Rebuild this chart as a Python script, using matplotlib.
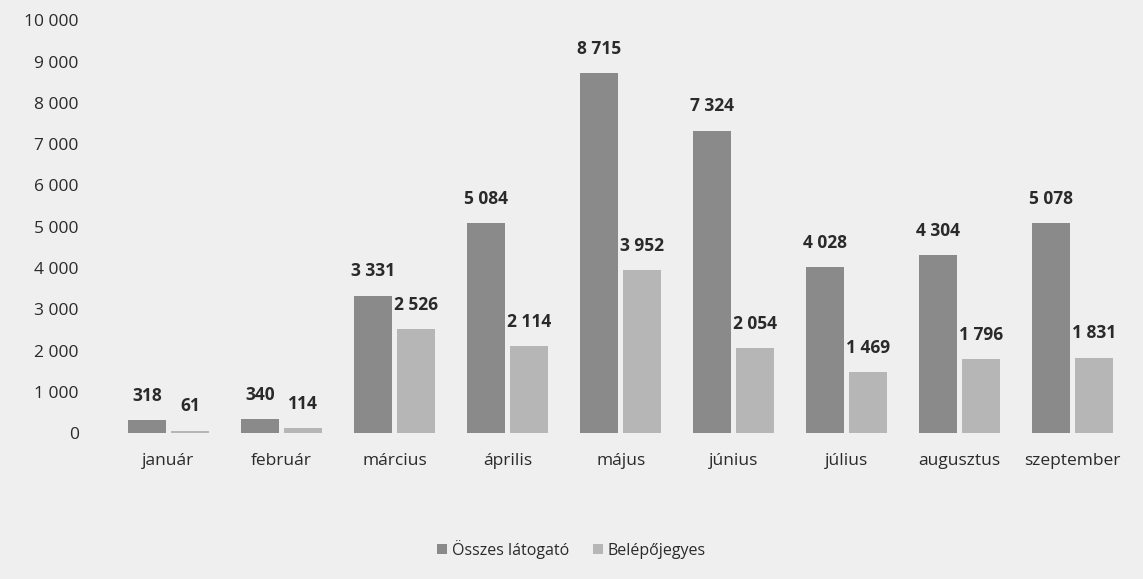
import matplotlib.pyplot as plt
import numpy as np

# data
months = ['január', 'február', 'március', 'április', 'május', 'június',
          'július', 'augusztus', 'szeptember']
osszes = [318, 340, 3331, 5084, 8715, 7324, 4028, 4304, 5078]
belepo = [61, 114, 2526, 2114, 3952, 2054, 1469, 1796, 1831]
series_names = ['Összes látogató', 'Belépőjegyes']


def fmt(v):
    return f"{v:,}".replace(',', ' ')


plt.rcParams['font.family'] = ['Open Sans', 'DejaVu Sans']

fig = plt.figure(figsize=(11.43, 5.79), dpi=100)
fig.patch.set_facecolor('#efefef')
ax = fig.add_axes([0.098, 0.252, 0.89, 0.713])
ax.set_facecolor('#efefef')

x = np.arange(len(months))
w = 0.335
b1 = ax.bar(x - 0.19, osszes, w, color='#8a8a8a', label=series_names[0])
b2 = ax.bar(x + 0.19, belepo, w, color='#b6b6b6', label=series_names[1])

for bars, vals in ((b1, osszes), (b2, belepo)):
    for r, v in zip(bars, vals):
        ax.annotate(fmt(v), (r.get_x() + r.get_width() / 2, v),
                    xytext=(0, 11), textcoords='offset points',
                    ha='center', va='bottom', fontsize=12.5,
                    fontweight='bold', color='#2a2a2a')

ax.set_xlim(-0.5, len(months) - 0.5)
ax.set_ylim(0, 10000)
ax.set_yticks(range(0, 10001, 1000))
ax.set_yticklabels([fmt(v) for v in range(0, 10001, 1000)])
ax.set_xticks(x)
ax.set_xticklabels(months)
ax.tick_params(length=0, labelsize=12.5, colors='#2a2a2a')
ax.tick_params(axis='y', pad=24)
ax.tick_params(axis='x', pad=14)
for s in ax.spines.values():
    s.set_visible(False)

fig.legend(loc='lower center', bbox_to_anchor=(0.5, 0.01), ncol=2, frameon=False,
           fontsize=11.5, handlelength=0.6, handleheight=0.6, columnspacing=1.5,
           handletextpad=0.3, labelcolor='#2a2a2a')

fig.savefig('out.png', dpi=100, facecolor=fig.get_facecolor())
